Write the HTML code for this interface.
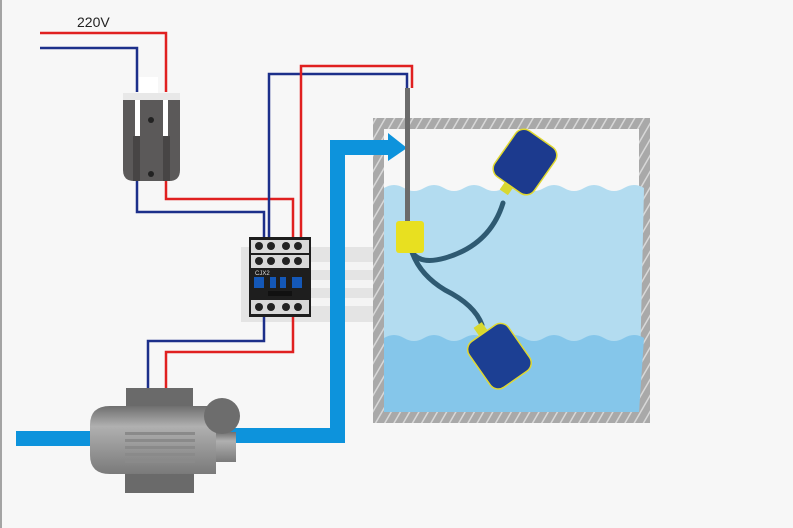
<!DOCTYPE html>
<html><head><style>html,body{margin:0;padding:0;background:#f7f7f7}svg{display:block}</style></head>
<body>
<svg width="793" height="528" viewBox="0 0 793 528" xmlns="http://www.w3.org/2000/svg">
<defs>
<pattern id="hatch" width="8" height="8" patternUnits="userSpaceOnUse" patternTransform="rotate(30)">
<rect width="8" height="8" fill="#a9a9a9"/><rect width="1.5" height="8" fill="#d8d8d8"/></pattern>
<linearGradient id="body" x1="0" y1="0" x2="0" y2="1">
<stop offset="0" stop-color="#6f6f6f"/><stop offset="0.3" stop-color="#b0b0b0"/><stop offset="1" stop-color="#7a7a7a"/></linearGradient>
</defs>
<rect width="793" height="528" fill="#f7f7f7"/>
<line x1="1" y1="0" x2="1" y2="528" stroke="#888" stroke-width="1.5"/>
<!-- panel behind contactor -->
<rect x="241" y="247" width="132" height="75" fill="#e4e4e4"/>
<rect x="310" y="262" width="63" height="8" fill="#f4f4f4"/>
<rect x="310" y="280" width="63" height="8" fill="#f4f4f4"/>
<rect x="310" y="298" width="63" height="8" fill="#f4f4f4"/>
<!-- tank -->
<rect x="373" y="118" width="277" height="305" fill="url(#hatch)"/>
<rect x="384" y="129" width="255" height="283" fill="#f7f7f7"/>
<path d="M384 188 q10 -6 20 0 t20 0 t20 0 t20 0 t20 0 t20 0 t20 0 t20 0 t20 0 t20 0 t20 0 t20 0 t20 0 L639 412 L384 412Z" fill="#b3dcf0"/>
<path d="M384 338 q10 -6 20 0 t20 0 t20 0 t20 0 t20 0 t20 0 t20 0 t20 0 t20 0 t20 0 t20 0 t20 0 t20 0 L639 412 L384 412Z" fill="#85c6ea"/>
<!-- pipe -->
<rect x="16" y="431" width="80" height="15" fill="#0d93dc"/>
<path d="M230 428 H330 V140 H388 V133 L407 148 L388 161 V155 H345 V443 H230Z" fill="#0d93dc"/>
<!-- wires -->
<g fill="none" stroke-width="2.5">
<polyline points="40,33 166,33 166,92" stroke="#e02020"/>
<polyline points="40,48 137,48 137,92" stroke="#1c2f8a"/>
<polyline points="137,181 137,212 264,212 264,238" stroke="#1c2f8a"/>
<polyline points="166,181 166,199 293,199 293,238" stroke="#e02020"/>
<polyline points="269,238 269,74 407,74 407,88" stroke="#1c2f8a"/>
<polyline points="301,238 301,66 412,66 412,88" stroke="#e02020"/>
<polyline points="264,316 264,341 148,341 148,390" stroke="#1c2f8a"/>
<polyline points="293,316 293,352 166,352 166,390" stroke="#e02020"/>
</g>
<!-- plug -->
<rect x="139" y="77" width="19" height="16" fill="#fff"/>
<rect x="123" y="93" width="57" height="7" fill="#e8e8e8"/>
<path d="M123 100 H180 V170 Q180 181 169 181 H134 Q123 181 123 170Z" fill="#5b5959"/>
<rect x="133" y="136" width="7" height="45" fill="#474545"/>
<rect x="163" y="136" width="7" height="45" fill="#474545"/>
<rect x="135" y="100" width="5" height="36" fill="#fff"/>
<rect x="163" y="100" width="5" height="36" fill="#fff"/>
<circle cx="151" cy="120" r="3" fill="#222"/><circle cx="151" cy="174" r="3" fill="#222"/>
<text x="77" y="27" font-family="Liberation Sans, sans-serif" font-size="14" fill="#222">220V</text>
<!-- contactor -->
<rect x="249" y="237" width="62" height="80" fill="#1e1e1e"/>
<rect x="251" y="240" width="58" height="13" fill="#d9d9d9"/>
<rect x="251" y="255" width="58" height="13" fill="#d9d9d9"/>
<rect x="251" y="300" width="58" height="14" fill="#d9d9d9"/>
<g fill="#222">
<circle cx="259" cy="246" r="4"/><circle cx="271" cy="246" r="4"/><circle cx="286" cy="246" r="4"/><circle cx="298" cy="246" r="4"/>
<circle cx="259" cy="261" r="4"/><circle cx="271" cy="261" r="4"/><circle cx="286" cy="261" r="4"/><circle cx="298" cy="261" r="4"/>
<circle cx="259" cy="307" r="4"/><circle cx="271" cy="307" r="4"/><circle cx="286" cy="307" r="4"/><circle cx="298" cy="307" r="4"/>
</g>
<text x="255" y="275" font-family="Liberation Sans, sans-serif" font-size="6" fill="#ddd">CJX2</text>
<g fill="#1458b8"><rect x="254" y="277" width="10" height="11"/><rect x="270" y="277" width="6" height="11"/><rect x="280" y="277" width="6" height="11"/><rect x="292" y="277" width="10" height="11"/></g>
<rect x="268" y="291" width="24" height="5" fill="#111"/>
<!-- pump -->
<rect x="126" y="388" width="67" height="20" fill="#6a6a6a"/>
<rect x="125" y="474" width="69" height="19" fill="#6a6a6a"/>
<path d="M110 406 H125 V474 H110 Q90 474 90 455 V425 Q90 406 110 406Z" fill="url(#body)"/>
<rect x="125" y="406" width="70" height="68" fill="url(#body)"/>
<g fill="#8a8a8a"><rect x="125" y="432" width="70" height="3"/><rect x="125" y="439" width="70" height="3"/><rect x="125" y="446" width="70" height="3"/><rect x="125" y="453" width="70" height="3"/><rect x="125" y="460" width="70" height="3"/></g>
<rect x="195" y="406" width="21" height="68" fill="url(#body)"/>
<rect x="216" y="432" width="20" height="30" fill="url(#body)"/>
<circle cx="222" cy="416" r="18" fill="#6d6d6d"/>
<!-- rod and cables -->
<rect x="405" y="88" width="5" height="135" fill="#6b6b6b"/>
<g fill="none" stroke="#2f5a72" stroke-width="5" stroke-linecap="round">
<path d="M412 252 Q420 265 445 258 Q490 245 503 203"/>
<path d="M412 252 Q420 275 445 290 Q475 305 482 325"/>
</g>
<rect x="396" y="221" width="28" height="32" rx="3" fill="#e8e020"/>
<g transform="rotate(35 525 162)">
<rect x="520" y="185" width="10" height="14" fill="#d8d830"/>
<rect x="501" y="134" width="48" height="56" rx="10" fill="#1c3a8e" stroke="#e0d830" stroke-width="1.5"/>
</g>
<g transform="rotate(-35 500 357)">
<rect x="495" y="318" width="10" height="14" fill="#d8d830"/>
<rect x="476" y="328" width="48" height="56" rx="10" fill="#1c3f93" stroke="#e0d830" stroke-width="1.5"/>
</g>
</svg>
</body></html>
